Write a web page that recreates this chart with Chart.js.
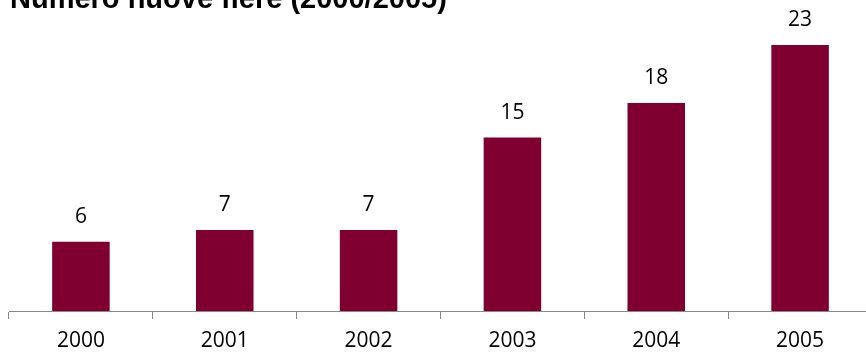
<!DOCTYPE html>
<html>
<head>
<meta charset="utf-8">
<script src="https://cdn.jsdelivr.net/npm/chart.js@4/dist/chart.umd.min.js"></script>
<style>
  html, body { margin: 0; padding: 0; background: #fff; overflow: hidden; }
  #wrap { width: 872px; height: 354px; }
</style>
</head>
<body>
<div id="wrap"><canvas id="myChart" width="872" height="354"></canvas></div>
<script>
// dati
const titolo = 'Numero nuove fiere (2000/2005)';
const anni = ['2000', '2001', '2002', '2003', '2004', '2005'];
const fiere = [6, 7, 7, 15, 18, 23];

// titolo tagliato in alto come nell'originale + etichette sopra le barre
const etichette = {
  id: 'etichette',
  afterDatasetsDraw(chart) {
    const ctx = chart.ctx;
    ctx.save();
    ctx.fillStyle = '#000';
    ctx.font = 'bold 29px "Liberation Sans", Arial, sans-serif';
    ctx.textAlign = 'left';
    ctx.textBaseline = 'alphabetic';
    ctx.fillText(titolo, 10, 8);

    ctx.font = '21px "Open Sans", "Liberation Sans", sans-serif';
    ctx.textAlign = 'center';
    ctx.textBaseline = 'middle';
    chart.getDatasetMeta(0).data.forEach((bar, i) => {
      ctx.fillText(fiere[i], bar.x, bar.y - 25);
    });
    ctx.restore();
  }
};

let ctx = document.getElementById('myChart').getContext('2d');
new Chart(ctx, {
  type: 'bar',
  data: {
    labels: anni,
    datasets: [{
      data: fiere,
      backgroundColor: '#7f0030',
      barPercentage: 0.4,
      categoryPercentage: 1
    }]
  },
  options: {
    responsive: false,
    animation: false,
    layout: { padding: { top: 22, left: 9, right: 0, bottom: 0 } },
    plugins: {
      legend: { display: false },
      tooltip: { enabled: false }
    },
    scales: {
      x: {
        grid: {
          offset: true,
          drawOnChartArea: false,
          tickLength: 8,
          color: '#888'
        },
        border: { color: '#888', width: 1 },
        ticks: {
          color: '#000',
          padding: 9,
          font: { family: '"Open Sans", "Liberation Sans", sans-serif', size: 21 }
        },
        afterFit(scale) { scale.height = 43; }
      },
      y: {
        display: false,
        min: 0,
        max: 25
      }
    }
  },
  plugins: [etichette]
});
</script>
</body>
</html>
